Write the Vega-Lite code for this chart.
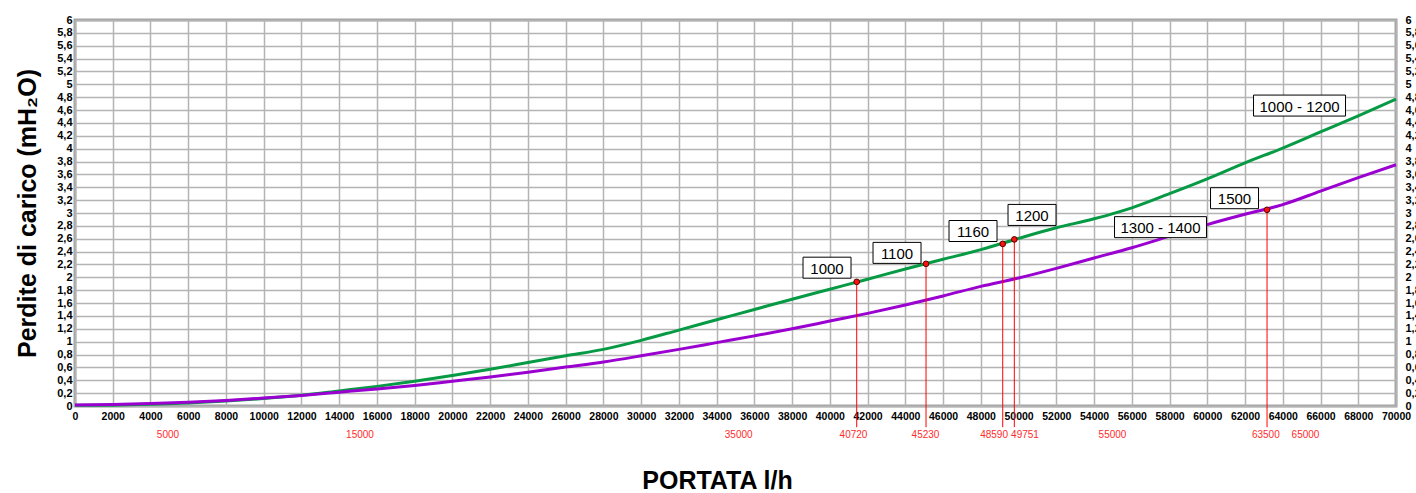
{
  "$schema": "https://vega.github.io/schema/vega-lite/v6.json",
  "width": 1321,
  "height": 386,
  "autosize": {"type": "none"},
  "padding": {"left": 75, "top": 20, "right": 20, "bottom": 87},
  "background": "white",
  "config": {
    "view": {"stroke": "#a3a3a3", "strokeWidth": 3},
    "axis": {
      "gridColor": "#b4b4b4",
      "gridWidth": 1.5,
      "domain": false,
      "ticks": false,
      "labelFont": "Liberation Sans, Arial, sans-serif",
      "labelFontWeight": "bold",
      "labelFontSize": 10.5,
      "labelColor": "black",
      "titleFont": "Liberation Sans, Arial, sans-serif",
      "titleFontWeight": "bold",
      "titleFontSize": 25,
      "titleColor": "black"
    }
  },
  "datasets": {
    "curves": [
      {"x": 0, "y": 0.01, "series": "1000 - 1200"},
      {"x": 2000, "y": 0.013, "series": "1000 - 1200"},
      {"x": 4000, "y": 0.026, "series": "1000 - 1200"},
      {"x": 6000, "y": 0.046, "series": "1000 - 1200"},
      {"x": 8000, "y": 0.077, "series": "1000 - 1200"},
      {"x": 10000, "y": 0.117, "series": "1000 - 1200"},
      {"x": 12000, "y": 0.167, "series": "1000 - 1200"},
      {"x": 14000, "y": 0.235, "series": "1000 - 1200"},
      {"x": 16000, "y": 0.305, "series": "1000 - 1200"},
      {"x": 18000, "y": 0.385, "series": "1000 - 1200"},
      {"x": 20000, "y": 0.475, "series": "1000 - 1200"},
      {"x": 22000, "y": 0.57, "series": "1000 - 1200"},
      {"x": 24000, "y": 0.675, "series": "1000 - 1200"},
      {"x": 26000, "y": 0.78, "series": "1000 - 1200"},
      {"x": 28000, "y": 0.88, "series": "1000 - 1200"},
      {"x": 30000, "y": 1.02, "series": "1000 - 1200"},
      {"x": 32000, "y": 1.18, "series": "1000 - 1200"},
      {"x": 34000, "y": 1.34, "series": "1000 - 1200"},
      {"x": 36000, "y": 1.5, "series": "1000 - 1200"},
      {"x": 38000, "y": 1.66, "series": "1000 - 1200"},
      {"x": 40000, "y": 1.815, "series": "1000 - 1200"},
      {"x": 42000, "y": 1.97, "series": "1000 - 1200"},
      {"x": 44000, "y": 2.13, "series": "1000 - 1200"},
      {"x": 46000, "y": 2.28, "series": "1000 - 1200"},
      {"x": 48000, "y": 2.43, "series": "1000 - 1200"},
      {"x": 50000, "y": 2.605, "series": "1000 - 1200"},
      {"x": 52000, "y": 2.77, "series": "1000 - 1200"},
      {"x": 54000, "y": 2.91, "series": "1000 - 1200"},
      {"x": 55000, "y": 2.99, "series": "1000 - 1200"},
      {"x": 56000, "y": 3.08, "series": "1000 - 1200"},
      {"x": 58000, "y": 3.3, "series": "1000 - 1200"},
      {"x": 60000, "y": 3.53, "series": "1000 - 1200"},
      {"x": 62000, "y": 3.78, "series": "1000 - 1200"},
      {"x": 64000, "y": 4.01, "series": "1000 - 1200"},
      {"x": 66000, "y": 4.26, "series": "1000 - 1200"},
      {"x": 68000, "y": 4.51, "series": "1000 - 1200"},
      {"x": 70000, "y": 4.77, "series": "1000 - 1200"},
      {"x": 0, "y": 0.015, "series": "1300 - 1400"},
      {"x": 2000, "y": 0.022, "series": "1300 - 1400"},
      {"x": 4000, "y": 0.037, "series": "1300 - 1400"},
      {"x": 6000, "y": 0.057, "series": "1300 - 1400"},
      {"x": 8000, "y": 0.087, "series": "1300 - 1400"},
      {"x": 10000, "y": 0.123, "series": "1300 - 1400"},
      {"x": 12000, "y": 0.165, "series": "1300 - 1400"},
      {"x": 14000, "y": 0.215, "series": "1300 - 1400"},
      {"x": 16000, "y": 0.265, "series": "1300 - 1400"},
      {"x": 18000, "y": 0.32, "series": "1300 - 1400"},
      {"x": 20000, "y": 0.385, "series": "1300 - 1400"},
      {"x": 22000, "y": 0.45, "series": "1300 - 1400"},
      {"x": 24000, "y": 0.525, "series": "1300 - 1400"},
      {"x": 26000, "y": 0.605, "series": "1300 - 1400"},
      {"x": 28000, "y": 0.685, "series": "1300 - 1400"},
      {"x": 30000, "y": 0.78, "series": "1300 - 1400"},
      {"x": 32000, "y": 0.88, "series": "1300 - 1400"},
      {"x": 34000, "y": 0.985, "series": "1300 - 1400"},
      {"x": 36000, "y": 1.09, "series": "1300 - 1400"},
      {"x": 38000, "y": 1.2, "series": "1300 - 1400"},
      {"x": 40000, "y": 1.32, "series": "1300 - 1400"},
      {"x": 42000, "y": 1.44, "series": "1300 - 1400"},
      {"x": 44000, "y": 1.57, "series": "1300 - 1400"},
      {"x": 46000, "y": 1.71, "series": "1300 - 1400"},
      {"x": 48000, "y": 1.86, "series": "1300 - 1400"},
      {"x": 50000, "y": 1.99, "series": "1300 - 1400"},
      {"x": 52000, "y": 2.14, "series": "1300 - 1400"},
      {"x": 54000, "y": 2.3, "series": "1300 - 1400"},
      {"x": 56000, "y": 2.46, "series": "1300 - 1400"},
      {"x": 58000, "y": 2.64, "series": "1300 - 1400"},
      {"x": 60000, "y": 2.82, "series": "1300 - 1400"},
      {"x": 62000, "y": 2.98, "series": "1300 - 1400"},
      {"x": 64000, "y": 3.13, "series": "1300 - 1400"},
      {"x": 66000, "y": 3.34, "series": "1300 - 1400"},
      {"x": 68000, "y": 3.55, "series": "1300 - 1400"},
      {"x": 70000, "y": 3.75, "series": "1300 - 1400"}
    ],
    "points": [
      {"x": 41423, "y": 1.93},
      {"x": 45096, "y": 2.21},
      {"x": 49160, "y": 2.52},
      {"x": 49775, "y": 2.59},
      {"x": 63166, "y": 3.05}
    ],
    "boxes": [
      {"x": 39850, "y": 2.15, "text": "1000", "kind": "short"},
      {"x": 43559, "y": 2.38, "text": "1100", "kind": "short"},
      {"x": 47586, "y": 2.72, "text": "1160", "kind": "short"},
      {"x": 50713, "y": 2.97, "text": "1200", "kind": "short"},
      {"x": 61443, "y": 3.23, "text": "1500", "kind": "short"},
      {"x": 57522, "y": 2.78, "text": "1300 - 1400", "kind": "long"},
      {"x": 64888, "y": 4.67, "text": "1000 - 1200", "kind": "long"}
    ],
    "xlabels": [
      {"x": 4928, "text": "5000"},
      {"x": 15103, "text": "15000"},
      {"x": 35170, "text": "35000"},
      {"x": 41254, "text": "40720"},
      {"x": 45069, "text": "45230"},
      {"x": 48700, "text": "48590"},
      {"x": 50340, "text": "49751"},
      {"x": 54978, "text": "55000"},
      {"x": 63102, "text": "63500"},
      {"x": 65206, "text": "65000"}
    ]
  },
  "layer": [
    {
      "data": {"name": "curves"},
      "mark": {"type": "line", "strokeWidth": 3, "interpolate": "monotone"},
      "encoding": {
        "x": {
          "field": "x",
          "type": "quantitative",
          "scale": {"domain": [0, 70000], "nice": false, "zero": false},
          "axis": {
            "tickCount": 35,
            "labelOverlap": false,
            "labelFlush": false,
            "labelPadding": 5,
            "format": "d",
            "title": "PORTATA l/h",
            "titlePadding": 47,
            "titleX": 642
          }
        },
        "y": {
          "field": "y",
          "type": "quantitative",
          "scale": {"domain": [0, 6], "nice": false},
          "axis": {
            "orient": "left",
            "tickCount": 30,
            "labelOverlap": false,
            "labelFlush": false,
            "labelPadding": 3,
            "labelFontSize": 11,
            "labelExpr": "replace(format(datum.value, '~g'), '.', ',')",
            "title": "Perdite di carico (mH₂O)",
            "titlePadding": 16
          }
        },
        "color": {
          "field": "series",
          "type": "nominal",
          "scale": {"domain": ["1000 - 1200", "1300 - 1400"], "range": ["#069a45", "#9a00cf"]},
          "legend": null
        }
      }
    },
    {
      "data": {"name": "curves"},
      "mark": {"type": "line", "strokeOpacity": 0},
      "encoding": {
        "x": {"field": "x", "type": "quantitative"},
        "y": {
          "field": "y",
          "type": "quantitative",
          "axis": {
            "orient": "right",
            "grid": false,
            "tickCount": 30,
            "labelOverlap": false,
            "labelFlush": false,
            "labelPadding": 9,
            "labelFontSize": 11,
            "labelExpr": "replace(format(datum.value, '~g'), '.', ',')",
            "title": null
          }
        }
      }
    },
    {
      "data": {"name": "points"},
      "mark": {"type": "rule", "color": "#ff0000", "strokeWidth": 1},
      "encoding": {
        "x": {"field": "x", "type": "quantitative"},
        "y": {"field": "y", "type": "quantitative", "axis": null},
        "y2": {"datum": -0.33}
      }
    },
    {
      "data": {"name": "points"},
      "mark": {"type": "point", "filled": true, "fill": "#ff1010", "stroke": "#5a0000", "strokeWidth": 1, "size": 32, "opacity": 1},
      "encoding": {
        "x": {"field": "x", "type": "quantitative"},
        "y": {"field": "y", "type": "quantitative", "axis": null}
      }
    },
    {
      "data": {"name": "boxes"},
      "mark": {"type": "point", "filled": true, "fill": "white", "stroke": "black", "strokeWidth": 1, "size": 4, "opacity": 1},
      "encoding": {
        "x": {"field": "x", "type": "quantitative"},
        "y": {"field": "y", "type": "quantitative", "axis": null},
        "shape": {
          "field": "kind",
          "type": "nominal",
          "scale": {"domain": ["short", "long"], "range": ["M-24,-10.5H24V10.5H-24Z", "M-46,-10.5H46V10.5H-46Z"]},
          "legend": null
        }
      }
    },
    {
      "data": {"name": "boxes"},
      "mark": {"type": "text", "font": "Liberation Sans, Arial, sans-serif", "fontSize": 15, "color": "black", "align": "center", "baseline": "middle", "dy": 1},
      "encoding": {
        "x": {"field": "x", "type": "quantitative"},
        "y": {"field": "y", "type": "quantitative", "axis": null},
        "text": {"field": "text"}
      }
    },
    {
      "data": {"name": "xlabels"},
      "mark": {"type": "text", "font": "Liberation Sans, Arial, sans-serif", "fontSize": 10, "color": "#ff2a2a", "align": "center", "baseline": "middle"},
      "encoding": {
        "x": {"field": "x", "type": "quantitative"},
        "y": {"datum": -0.45, "axis": null},
        "text": {"field": "text"}
      }
    }
  ],
  "resolve": {"axis": {"y": "independent"}}
}
